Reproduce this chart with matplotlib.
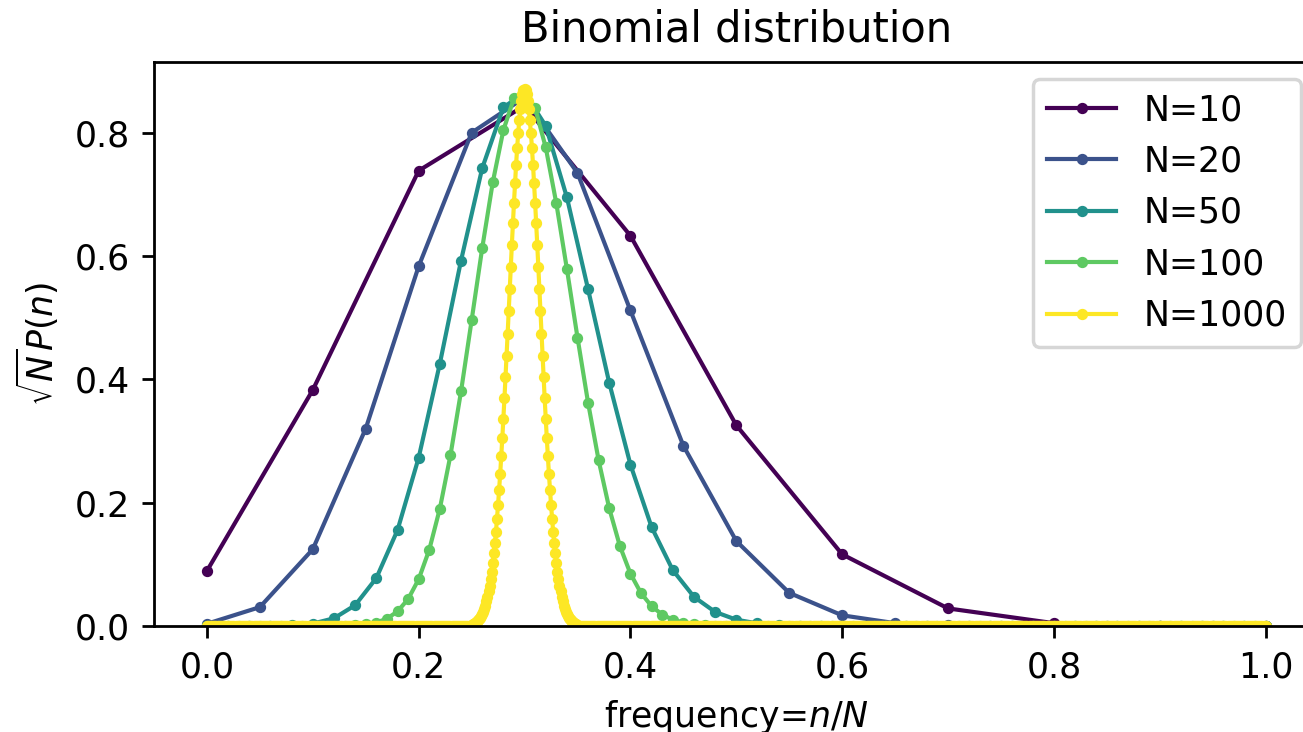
import numpy as np
import matplotlib
matplotlib.use("Agg")
import matplotlib.pyplot as plt

# sample sizes
sizes = [10, 20, 50, 100, 1000]

# sqrt(N) * P(n), listed from the first non-zero index k0
n10_k0 = 0
n10_vals = [0.0893, 0.3828, 0.7383, 0.8438, 0.6328, 0.3255, 0.1162, 0.0285,
            0.0046, 0.0004, 0.0000]

n20_k0 = 0
n20_vals = [0.0036, 0.0306, 0.1245, 0.3202, 0.5833, 0.7999, 0.8570, 0.7346,
            0.5116, 0.2923, 0.1378, 0.0537, 0.0173, 0.0046, 0.0010, 0.0002]

n50_k0 = 0
n50_vals = [0.0000, 0.0000, 0.0000, 0.0002, 0.0010, 0.0039, 0.0125, 0.0337,
            0.0777, 0.1554, 0.2730, 0.4255, 0.5926, 0.7424, 0.8409, 0.8649,
            0.8109, 0.6950, 0.5461, 0.3942, 0.2618, 0.1603, 0.0906, 0.0473,
            0.0228, 0.0102, 0.0042, 0.0016, 0.0006, 0.0002, 0.0001]

n100_k0 = 12
n100_vals = [0.0001, 0.0004, 0.0010, 0.0025, 0.0056, 0.0119, 0.0236, 0.0436,
             0.0758, 0.1237, 0.1904, 0.2767, 0.3804, 0.4956, 0.6127, 0.7197,
             0.8041, 0.8556, 0.8678, 0.8398, 0.7761, 0.6854, 0.5788, 0.4678,
             0.3620, 0.2684, 0.1907, 0.1299, 0.0849, 0.0533, 0.0321, 0.0185,
             0.0103, 0.0055, 0.0028, 0.0014, 0.0007, 0.0003, 0.0001]

n1000_k0 = 250
n1000_vals = [0.002, 0.003, 0.004, 0.005, 0.006, 0.007, 0.009, 0.011, 0.013, 0.016,
              0.019, 0.023, 0.028, 0.033, 0.040, 0.047, 0.056, 0.065, 0.076, 0.088,
              0.102, 0.118, 0.135, 0.153, 0.174, 0.197, 0.221, 0.247, 0.275, 0.305,
              0.336, 0.369, 0.403, 0.438, 0.473, 0.510, 0.546, 0.582, 0.618, 0.653,
              0.686, 0.718, 0.748, 0.775, 0.799, 0.820, 0.838, 0.852, 0.862, 0.869,
              0.871,
              0.869, 0.862, 0.852, 0.838, 0.820, 0.799, 0.775, 0.748, 0.718, 0.686,
              0.653, 0.618, 0.582, 0.546, 0.510, 0.473, 0.438, 0.403, 0.369, 0.336,
              0.305, 0.275, 0.247, 0.221, 0.197, 0.174, 0.153, 0.135, 0.118, 0.102,
              0.088, 0.076, 0.065, 0.056, 0.047, 0.040, 0.033, 0.028, 0.023, 0.019,
              0.016, 0.013, 0.011, 0.009, 0.007, 0.006, 0.005, 0.004, 0.003, 0.002]

series = [(10, n10_k0, n10_vals), (20, n20_k0, n20_vals), (50, n50_k0, n50_vals),
          (100, n100_k0, n100_vals), (1000, n1000_k0, n1000_vals)]

title = "Binomial distribution"
xlabel = r"frequency=$n/N$"
ylabel = r"$\sqrt{N}P(n)$"

fig = plt.figure(figsize=(1303 / 250, 732 / 250), dpi=250)
ax = fig.add_axes([154 / 1303, 106 / 732, 1164.6 / 1303, 564 / 732])

colors = plt.cm.viridis(np.linspace(0, 1, len(sizes)))
for (N, k0, vals), c in zip(series, colors):
    y = np.zeros(N + 1)
    y[k0:k0 + len(vals)] = vals
    x = np.arange(N + 1) / N
    ax.plot(x, y, '.-', color=c, lw=1.2, ms=4.5, label=f"N={N}")

ax.set_ylim(bottom=0)
ax.set_title(title)
ax.set_xlabel(xlabel)
ax.set_ylabel(ylabel)
ax.legend(loc="upper right")

fig.savefig("out.png", dpi=250)
